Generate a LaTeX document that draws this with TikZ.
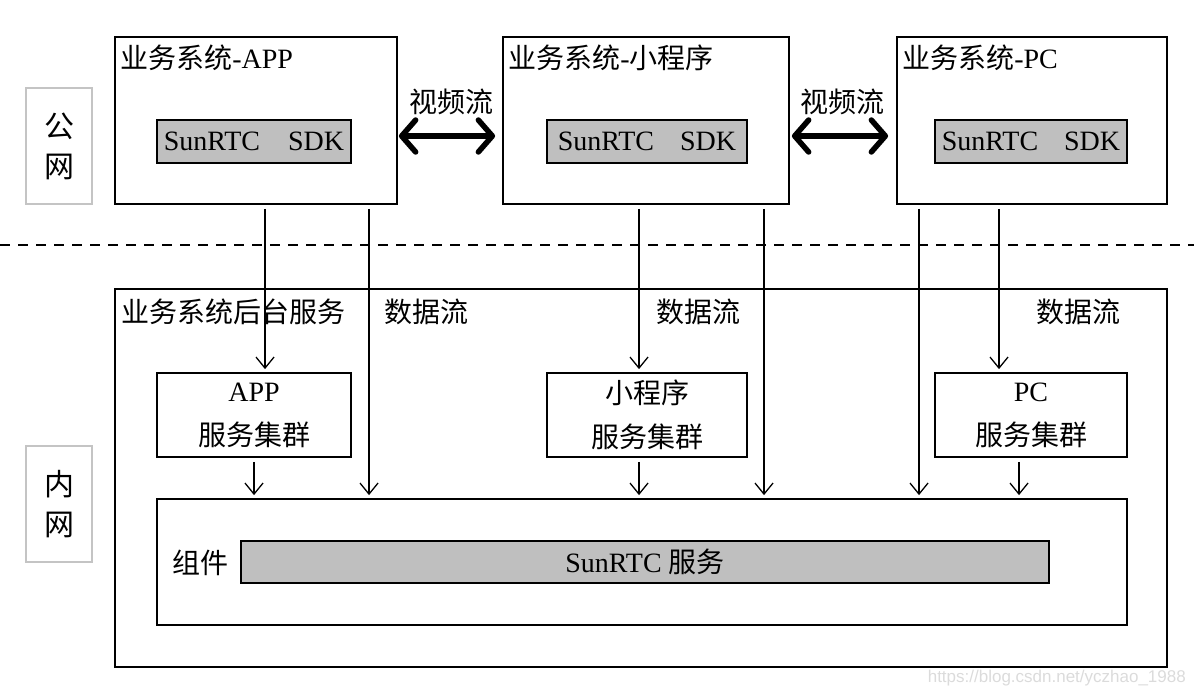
\documentclass[tikz,border=0pt]{standalone}
\usepackage{fontspec}
\setmainfont{Liberation Serif}
\setsansfont{Liberation Sans}
\newfontfamily\cjk{Noto Sans CJK SC}
\usetikzlibrary{arrows.meta,positioning}

\definecolor{sdkgray}{HTML}{BFBFBF}
\definecolor{netgray}{HTML}{C4C4C4}
\newcommand{\zh}[1]{{\cjk #1}}

\begin{document}
\begin{tikzpicture}[
    x=1pt, y=-1pt,
    txt/.style={font=\fontsize{28}{40}\selectfont, inner sep=0pt},
    box/.style={draw, line width=1.8pt, inner sep=0pt, align=center, font=\fontsize{28}{44}\selectfont},
    graybox/.style={box, fill=sdkgray},
    netbox/.style={draw=netgray, line width=2pt, inner sep=0pt, align=center, font=\fontsize{30}{40}\selectfont},
    arrow/.style={-{Straight Barb[length=11pt, width=18pt]}, line width=1.3pt, shorten <=4pt, shorten >=3pt},
    bigarrow/.style={{Straight Barb[length=14pt, width=32pt, round]}-{Straight Barb[length=14pt, width=32pt, round]}, line width=5.5pt},
]
\useasboundingbox (0,0) rectangle (1194,694);

% network zones
\node[netbox, minimum width=66pt, minimum height=116pt] (pub) at (59,146) {\zh{公}\\\zh{网}};
\node[netbox, minimum width=66pt, minimum height=116pt] (priv) at (59,504) {\zh{内}\\\zh{网}};

% business systems (public side)
\node[box, minimum width=282pt, minimum height=167pt] (app) at (256,120.5) {};
\node[box, minimum width=286pt, minimum height=167pt] (mini) at (646,120.5) {};
\node[box, minimum width=270pt, minimum height=167pt] (pc) at (1032,120.5) {};
\node[txt, anchor=west] (apptitle) at ([xshift=6pt, yshift=-22pt]app.north west) {\zh{业务系统}-APP};
\node[txt, anchor=west] (minititle) at ([xshift=6pt, yshift=-22pt]mini.north west) {\zh{业务系统}-\zh{小程序}};
\node[txt, anchor=west] (pctitle) at ([xshift=6pt, yshift=-22pt]pc.north west) {\zh{业务系统}-PC};

\node[graybox, minimum width=194pt, minimum height=43pt] (appsdk) at (254,141.5) {SunRTC\hspace{28pt}SDK};
\node[graybox, minimum width=200pt, minimum height=43pt] (minisdk) at (647,141.5) {SunRTC\hspace{26pt}SDK};
\node[graybox, minimum width=192pt, minimum height=43pt] (pcsdk) at (1031,141.5) {SunRTC\hspace{26pt}SDK};

% video streams
\node[txt] (video1) at (451,102) {\zh{视频流}};
\node[txt] (video2) at (842,102) {\zh{视频流}};
\draw[bigarrow, shorten <=1pt, shorten >=7pt] ([yshift=-15.5pt]app.east) -- ([yshift=-15.5pt]mini.west);
\draw[bigarrow, shorten <=2pt, shorten >=8pt] ([yshift=-15.5pt]mini.east) -- ([yshift=-15.5pt]pc.west);

\coordinate (lineleft) at (0,245);
\coordinate (lineright) at (1194,245);
\draw[line width=1.5pt, dash pattern=on 10pt off 8pt] (lineleft) -- (lineright);

% backend (private side)
\node[box, minimum width=1052pt, minimum height=378pt] (back) at (641,478) {};
\node[txt, anchor=west] (backtitle) at (121,312) {\zh{业务系统后台服务}};
\node[txt] (data1) at (426,312) {\zh{数据流}};
\node[txt] (data2) at (698,312) {\zh{数据流}};
\node[txt] (data3) at (1078,312) {\zh{数据流}};

\node[box, minimum width=194pt, minimum height=84pt] (appsvc) at (254,415) {APP\\\zh{服务集群}};
\node[box, minimum width=200pt, minimum height=84pt] (minisvc) at (647,415) {\zh{小程序}\\\zh{服务集群}};
\node[box, minimum width=192pt, minimum height=84pt] (pcsvc) at (1031,415) {PC\\\zh{服务集群}};

\node[box, minimum width=970pt, minimum height=126pt] (comp) at (642,562) {};
\node[txt] (complabel) at (200,563) {\zh{组件}};
\node[graybox, minimum width=808pt, minimum height=42pt] (rtc) at (645,562) {SunRTC \zh{服务}};

% data flows
\foreach \src/\dst/\xx in {app/appsvc/265, app/comp/369, mini/minisvc/639, mini/comp/764,
    pc/comp/919, pc/pcsvc/999, appsvc/comp/254, minisvc/comp/639, pcsvc/comp/1019} {
  \coordinate (col) at (\xx,0);
  \draw[arrow] (\src.south -| col) -- (\dst.north -| col);
}

\node[font=\sffamily\fontsize{17}{17}\selectfont, text=black!14, anchor=east, inner sep=0pt] (mark) at (1186,678) {https://blog.csdn.net/yczhao\_1988};
\end{tikzpicture}
\end{document}
